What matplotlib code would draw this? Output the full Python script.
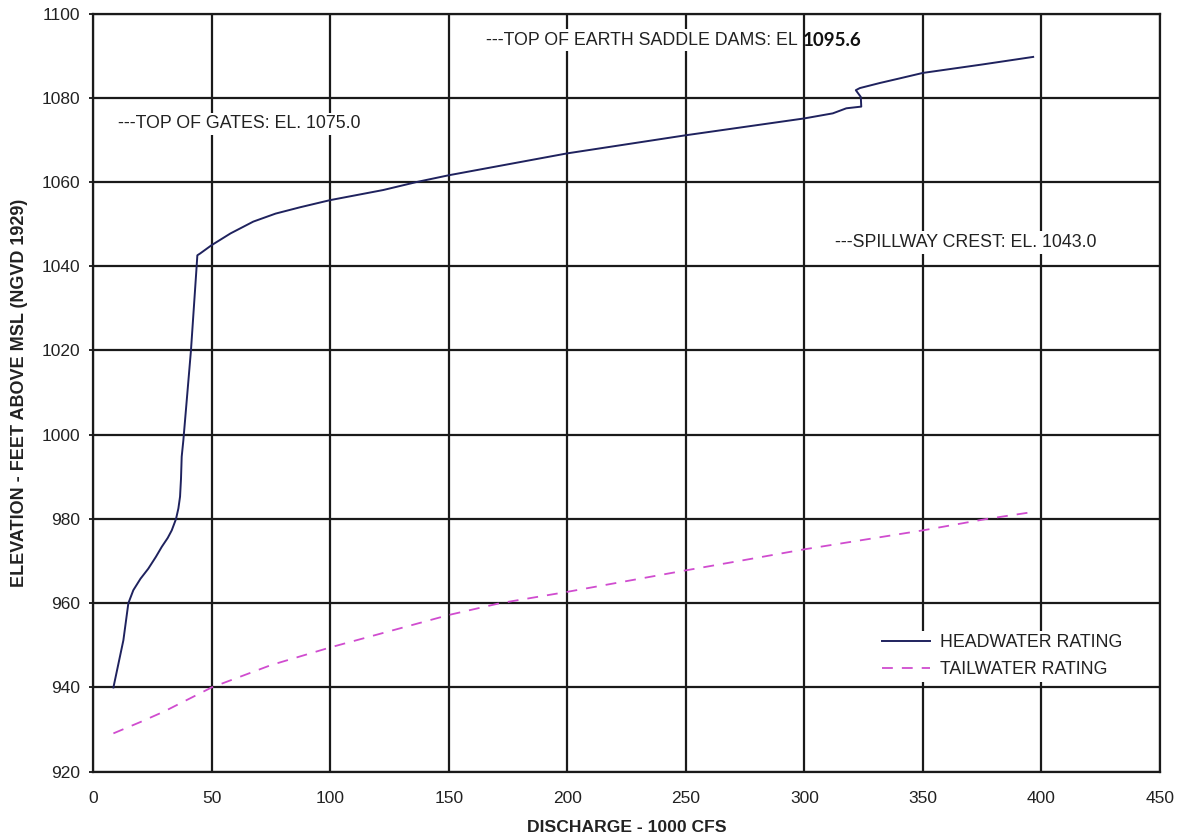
import matplotlib
matplotlib.use("Agg")
import matplotlib.pyplot as plt

# Headwater rating curve (discharge in 1000 cfs, elevation in ft)
hw_discharge = [8.6, 12.8, 14.9, 17.0, 20.0, 23.3, 26.5, 29.0, 31.5, 33.2, 35.0,
                36.0, 36.7, 37.1, 37.4, 38.1, 41.3, 43.7, 44.0, 45.1, 50.0,
                58.0, 67.6, 77.0, 87.3, 100.0, 122.4, 136.5, 150.0, 200.0,
                250.0, 300.0, 312.0, 317.7, 324.0, 323.8, 321.7, 323.4, 331.8,
                340.2, 350.0, 375.0, 396.5]
hw_elevation = [940.0, 951.2, 960.0, 963.1, 965.8, 968.2, 971.0, 973.4, 975.5,
                977.3, 980.0, 982.5, 985.3, 989.5, 994.8, 998.7, 1020.0, 1040.0,
                1042.6, 1043.0, 1045.0, 1047.8, 1050.6, 1052.5, 1054.0, 1055.7,
                1058.1, 1060.0, 1061.6, 1066.8, 1071.1, 1075.1, 1076.3, 1077.5,
                1077.9, 1080.2, 1081.8, 1082.3, 1083.5, 1084.6, 1085.9, 1087.9,
                1089.7]

# Tailwater rating curve
tw_discharge = [8.6, 20.0, 30.0, 50.0, 75.0, 100.0, 150.0, 171.6, 200.0, 250.0,
                274.2, 300.0, 350.0, 376.8, 396.9]
tw_elevation = [929.1, 931.8, 934.3, 940.0, 945.3, 949.5, 957.2, 960.0, 962.7,
                967.8, 970.2, 972.8, 977.3, 980.0, 981.7]

x_ticks = [0, 50, 100, 150, 200, 250, 300, 350, 400, 450]
y_ticks = [920, 940, 960, 980, 1000, 1020, 1040, 1060, 1080, 1100]

plt.rcParams["font.family"] = ["Liberation Sans", "DejaVu Sans"]
text_color = "#222222"

fig = plt.figure(figsize=(11.79, 8.40), dpi=100)
ax = fig.add_axes([0.0789, 0.0813, 0.905, 0.9026])

ax.plot(hw_discharge, hw_elevation, color="#1f225e", linewidth=1.4,
        label="HEADWATER RATING", zorder=3)
ax.plot(tw_discharge, tw_elevation, color="#d04ccf", linewidth=1.3,
        linestyle=(0, (6, 5)), label="TAILWATER RATING", zorder=3)

ax.set_xlim(0, 450)
ax.set_ylim(920, 1100)
ax.set_xticks(x_ticks)
ax.set_yticks(y_ticks)
ax.grid(True, color="#1a1a1a", linewidth=1.6, zorder=1)
ax.set_axisbelow(True)
for spine in ax.spines.values():
    spine.set_color("#1a1a1a")
    spine.set_linewidth(1.6)

ax.tick_params(axis="x", length=0, pad=14, labelsize=12.5, labelcolor=text_color)
ax.tick_params(axis="y", length=3, width=1.2, pad=6, labelsize=12.5,
               labelcolor=text_color)

ax.set_xlabel("DISCHARGE - 1000 CFS", fontsize=12.6, fontweight="bold",
              color=text_color, labelpad=10)
ax.set_ylabel("ELEVATION - FEET ABOVE MSL (NGVD 1929)", fontsize=13,
              fontweight="bold", color=text_color, labelpad=10)

# Reference elevation notes
note_kw = dict(fontsize=12.8, color=text_color, va="center", ha="left",
               zorder=4, bbox=dict(facecolor="white", edgecolor="none", pad=2))
ax.text(10.5, 1073.8, "---TOP OF GATES: EL. 1075.0", **note_kw)
ax.text(165.7, 1093.7, "---TOP OF EARTH SADDLE DAMS: EL", **note_kw)
ax.text(299.3, 1093.7, "1095.6", fontsize=13.5, fontweight="bold",
        family=["Lato", "DejaVu Sans"], color="#111111", va="center",
        ha="left", zorder=4)
ax.text(312.8, 1045.7, "---SPILLWAY CREST: EL. 1043.0", **note_kw)

leg = ax.legend(loc="upper left", bbox_to_anchor=(0.7277, 0.1977), frameon=True,
                fontsize=12.8, handlelength=2.7, handletextpad=0.56,
                borderpad=0.2, labelspacing=0.55, fancybox=False)
leg.get_frame().set_facecolor("white")
leg.get_frame().set_edgecolor("none")
leg.get_frame().set_alpha(1.0)
for t in leg.get_texts():
    t.set_color(text_color)

fig.savefig("out.png", dpi=100, facecolor="white")
